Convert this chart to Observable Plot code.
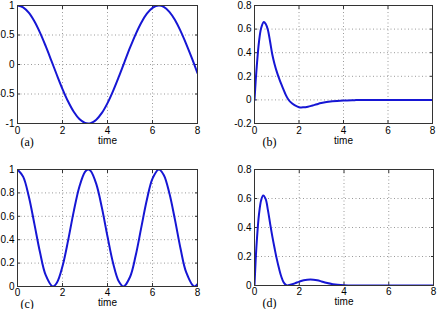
<!DOCTYPE html>
<html><head><meta charset="utf-8">
<script src="https://cdn.jsdelivr.net/npm/d3@7"></script>
<script src="https://cdn.jsdelivr.net/npm/@observablehq/plot@0.6"></script>
<style>
body{margin:0;background:#fff}
#wrap{position:relative;width:438px;height:309px;overflow:hidden;background:#fff}
#wrap>div{position:absolute}
</style>
</head><body><div id="wrap"></div>
<script>
// x ticks shared by all panels
const xTicks = [0, 2, 4, 6, 8];

// (a)
const tA = [0,0.25,0.5,0.75,1,1.25,1.5,1.75,2,2.25,2.5,2.75,3,3.14,3.25,3.5,3.75,4,4.25,4.5,4.75,5,5.25,5.5,5.75,6,6.28,6.5,6.75,7,7.25,7.5,7.75,8];
const vA = [1,0.969,0.878,0.732,0.540,0.315,0.071,-0.178,-0.416,-0.628,-0.801,-0.924,-0.990,-1,-0.994,-0.936,-0.821,-0.654,-0.446,-0.211,0.037,0.284,0.512,0.709,0.861,0.960,1,0.977,0.893,0.754,0.566,0.347,0.108,-0.146];
const yTicksA = [-1, -0.5, 0, 0.5, 1];

// (b)
const tB = [0,0.05,0.1,0.2,0.3,0.42,0.5,0.6,0.7,0.8,0.9,1,1.1,1.2,1.3,1.4,1.5,1.6,1.8,2,2.2,2.4,2.6,2.8,3,3.5,4,4.5,5,6,7,8];
const vB = [0,0.15,0.28,0.49,0.61,0.66,0.645,0.595,0.495,0.385,0.305,0.24,0.185,0.135,0.09,0.045,0.01,-0.015,-0.045,-0.062,-0.063,-0.058,-0.048,-0.037,-0.027,-0.012,-0.005,-0.002,0,0,0,0];
const yTicksB = [-0.2, 0, 0.2, 0.4, 0.6, 0.8];

// (c)
const tC = [0,0.25,0.5,0.75,1,1.25,1.57,1.75,2,2.25,2.5,2.75,3,3.14,3.25,3.5,3.75,4,4.25,4.5,4.71,5,5.25,5.5,5.75,6,6.28,6.5,6.75,7,7.25,7.5,7.85,8];
const vC = [1,0.939,0.771,0.535,0.292,0.099,0,0.032,0.173,0.394,0.642,0.853,0.980,1,0.988,0.877,0.674,0.427,0.199,0.045,0,0.081,0.262,0.503,0.741,0.922,1,0.954,0.797,0.569,0.320,0.120,0,0.021];
const yTicksC = [0, 0.2, 0.4, 0.6, 0.8, 1];

// (d)
const tD = [0,0.05,0.1,0.2,0.3,0.39,0.5,0.6,0.7,0.8,0.9,1,1.1,1.2,1.3,1.4,1.46,1.6,1.8,2,2.2,2.5,2.8,3,3.2,3.5,4,4.5,5,6,7,8];
const vD = [0,0.17,0.30,0.49,0.59,0.62,0.595,0.52,0.425,0.335,0.255,0.18,0.115,0.06,0.022,0.004,0,0.005,0.015,0.027,0.036,0.041,0.036,0.028,0.019,0.009,0.002,0,0,0,0,0];
const yTicksD = [0, 0.2, 0.4, 0.6, 0.8];

const tags = ["(a)", "(b)", "(c)", "(d)"];
const xLabel = "time";

const fmt = d => String(d);
const blank = () => "";
const gridStyle = {stroke: "#9a9a9a", strokeOpacity: 1, strokeDasharray: "1,2.5", strokeWidth: 1};
const tickStyle = {stroke: "#333", strokeOpacity: 1};

function panel(o) {
  const chart = Plot.plot({
    width: o.width, height: o.height,
    marginLeft: o.mL, marginRight: o.mR, marginTop: o.mT, marginBottom: o.mB,
    style: {fontFamily: "Liberation Sans, Arial, sans-serif", fontSize: "10px", background: "white", color: "black"},
    x: {domain: [0, 8], ticks: xTicks},
    y: {domain: o.yDomain, ticks: o.yTicks},
    marks: [
      Plot.gridX(xTicks, gridStyle),
      Plot.gridY(o.yTicks, gridStyle),
      Plot.axisX({ticks: xTicks, tickSize: 0, tickPadding: o.xPad, label: null, tickFormat: fmt}),
      Plot.axisY({ticks: o.yTicks, tickSize: 0, tickPadding: 3, label: null, tickFormat: fmt}),
      Plot.axisX({anchor: "bottom", ticks: xTicks, tickSize: -3, label: null, tickFormat: blank, ...tickStyle}),
      Plot.axisX({anchor: "top", ticks: xTicks, tickSize: -3, label: null, tickFormat: blank, ...tickStyle}),
      Plot.axisY({anchor: "left", ticks: o.yTicks, tickSize: -3, label: null, tickFormat: blank, ...tickStyle}),
      Plot.axisY({anchor: "right", ticks: o.yTicks, tickSize: -3, label: null, tickFormat: blank, ...tickStyle}),
      Plot.line(o.v, {x: o.t, y: o.v, stroke: "#1616d4", strokeWidth: 2, curve: "catmull-rom", clip: true}),
      Plot.frame({stroke: "#333", strokeWidth: 1}),
      Plot.text([xLabel], {frameAnchor: "bottom", dy: o.timeDy, fontSize: 10}),
      Plot.text([o.tag], {frameAnchor: "bottom-left", textAnchor: "start", dx: o.tagDx, dy: o.tagDy, fontFamily: "Liberation Serif, Times New Roman, serif", fontSize: 12})
    ]
  });
  const d = document.createElement("div");
  d.style.left = o.left + "px";
  d.style.top = o.top + "px";
  d.appendChild(chart);
  document.getElementById("wrap").appendChild(d);
}

panel({t: tA, v: vA, yDomain: [-1, 1], yTicks: yTicksA, tag: tags[0],
  left: 0, top: 0, width: 219, height: 155, mL: 17, mR: 22, mT: 5, mB: 32, xPad: 3, timeDy: 20, tagDx: 3, tagDy: 22});
panel({t: tB, v: vB, yDomain: [-0.2, 0.8], yTicks: yTicksB, tag: tags[1],
  left: 219, top: 0, width: 219, height: 155, mL: 35, mR: 6, mT: 5, mB: 32, xPad: 3, timeDy: 20, tagDx: 8, tagDy: 22});
panel({t: tC, v: vC, yDomain: [0, 1], yTicks: yTicksC, tag: tags[2],
  left: 0, top: 155, width: 219, height: 154, mL: 17, mR: 22, mT: 14, mB: 23, xPad: 2, timeDy: 19.5, tagDx: 3, tagDy: 21});
panel({t: tD, v: vD, yDomain: [0, 0.8], yTicks: yTicksD, tag: tags[3],
  left: 219, top: 155, width: 219, height: 154, mL: 35, mR: 5, mT: 14, mB: 24, xPad: 2, timeDy: 19.5, tagDx: 8, tagDy: 21});
</script>
</body></html>
